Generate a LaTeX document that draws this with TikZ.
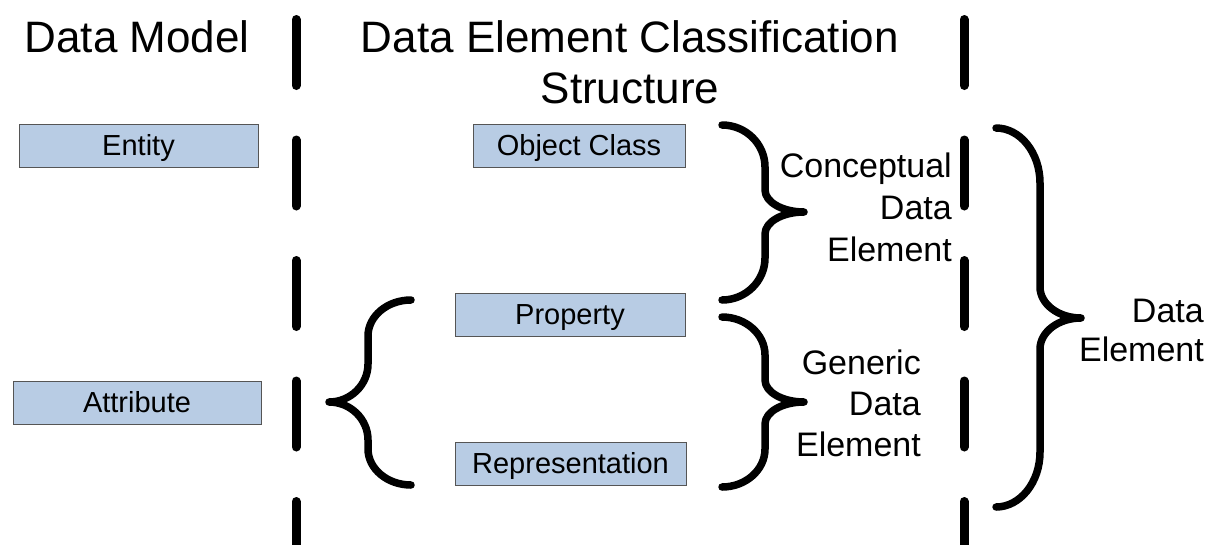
\documentclass[tikz,border=0pt]{standalone}
\usepackage{fontspec}
\setmainfont{Liberation Sans}

\definecolor{boxfill}{HTML}{B8CCE4}
\definecolor{boxline}{HTML}{555555}

% Curly brace: end x, top y, stem x, outer radius, tip x, tip y, inner radius, bottom y
\newcommand\curlybrace[8]{%
  \draw[bracestroke]
    (#1,#2) .. controls ({#1+0.55*(#3-#1)},#2) and (#3,{#2+0.45*#4}) .. (#3,{#2+#4})
    -- (#3,{#6-#7})
    .. controls (#3,{#6-0.45*#7}) and ({#5-0.55*(#5-#3)},#6) .. (#5,#6)
    .. controls ({#5-0.55*(#5-#3)},#6) and (#3,{#6+0.45*#7}) .. (#3,{#6+#7})
    -- (#3,{#8-#4})
    .. controls (#3,{#8-0.45*#4}) and ({#1+0.55*(#3-#1)},#8) .. (#1,#8);}

\tikzset{
  termbox/.style={draw=boxline, line width=1pt, fill=boxfill, inner sep=0pt,
    font=\fontsize{29}{34}\selectfont, text height=20.8pt, text depth=0pt},
  heading/.style={font=\fontsize{44}{51}\selectfont, inner sep=0pt},
  sidelabel/.style={inner sep=0pt, align=right, anchor=north east},
  divider/.style={line width=9pt, line cap=round, dash pattern=on 66pt off 54.5pt},
  bracestroke/.style={line width=7.5pt, line cap=round, line join=round},
}

\begin{document}
\begin{tikzpicture}[x=1pt, y=-1pt]
  \useasboundingbox (0,0) rectangle (1209,544);
  \clip (0,0) rectangle (1209,544);

  % column headings
  \node[heading, anchor=base west] (hmodel) at (24.5,52) {Data Model};
  \node[heading, anchor=north, align=center] (hstruct) at (630,20)
    {Data Element Classification\\Structure};

  % column dividers
  \coordinate (divLtop) at (296,19.5);
  \coordinate (divLbot) at (296,570);
  \coordinate (divRtop) at (964,19.5);
  \coordinate (divRbot) at (964,570);
  \draw[divider] (divLtop) -- (divLbot);
  \draw[divider] (divRtop) -- (divRbot);

  % data model terms
  \node[termbox, minimum width=239pt, minimum height=43pt] (entity) at (138.5,145.5) {Entity};
  \node[termbox, minimum width=248pt, minimum height=43pt] (attribute) at (137,402.5) {Attribute};

  % classification structure terms
  \node[termbox, minimum width=212pt, minimum height=43pt] (objclass) at (579,145.5) {Object Class};
  \node[termbox, minimum width=230pt, minimum height=43pt] (property) at (570,314.5) {Property};
  \node[termbox, minimum width=231pt, minimum height=43pt] (represent) at (570.5,463.5) {Representation};

  % braces
  \curlybrace{411}{300}{368}{36}{329}{402}{38}{485}
  \curlybrace{722}{125}{765}{42}{804}{212}{22}{300}
  \curlybrace{722}{317}{765}{38}{804}{402}{22}{487}
  \curlybrace{996}{128}{1040}{55}{1081}{318}{31}{507}

  % brace labels
  \node[sidelabel, font=\fontsize{34}{42}\selectfont] (cde) at (952,153) {Conceptual\\Data\\Element};
  \node[sidelabel, font=\fontsize{34}{41}\selectfont] (gde) at (921,350) {Generic\\Data\\Element};
  \node[sidelabel, font=\fontsize{34}{39.5}\selectfont] (de) at (1204,298.7) {Data\\Element};
\end{tikzpicture}
\end{document}
